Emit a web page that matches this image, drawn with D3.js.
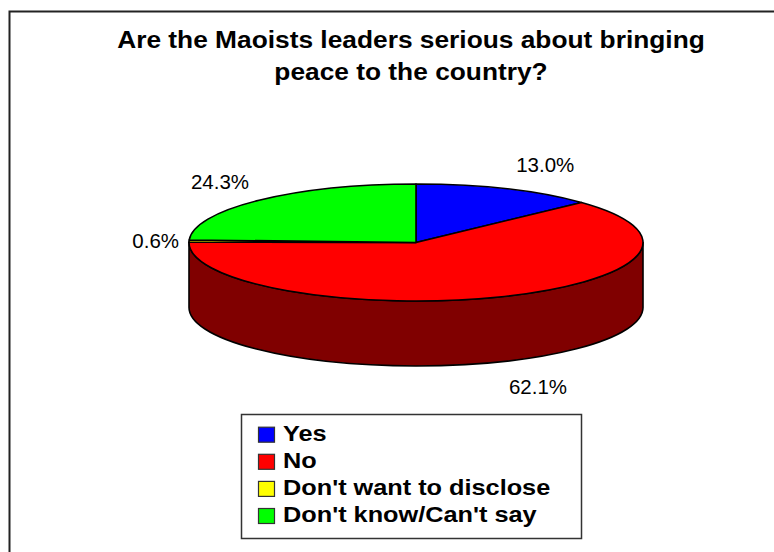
<!DOCTYPE html>
<html>
<head>
<meta charset="utf-8">
<script src="https://cdn.jsdelivr.net/npm/d3@7"></script>
<style>
  html, body { margin: 0; padding: 0; background: #ffffff; }
  svg { display: block; font-family: "Liberation Sans", Arial, sans-serif; }
</style>
</head>
<body>
<svg id="chart" width="774" height="552"></svg>
<script>
// Survey answers and their shares (percent)
const categories = ["Yes", "No", "Don't want to disclose", "Don't know/Can't say"];
const shares = [13.0, 62.1, 0.6, 24.3];
const topColors = ["#0000ff", "#ff0000", "#ffff00", "#00ff00"];
const sideColors = ["#000080", "#800000", "#808000", "#008000"];
const titleLines = ["Are the Maoists leaders serious about bringing", "peace to the country?"];

const svg = d3.select("#chart");

// chart frame (runs off the right and bottom edges)
svg.append("rect")
  .attr("x", 9.5).attr("y", 11.5)
  .attr("width", 820).attr("height", 620)
  .attr("fill", "#ffffff")
  .attr("stroke", "#222").attr("stroke-width", 2);

// title
const titleX = 411;
titleLines.forEach((t, i) => {
  svg.append("g")
    .attr("transform", `translate(${titleX},${48 + i * 32}) scale(1.12,1)`)
    .append("text")
    .attr("text-anchor", "middle")
    .attr("font-weight", "bold")
    .attr("font-size", 23.5)
    .attr("fill", "#000")
    .text(t);
});

// 3D pie geometry
const cx = 416, cy = 242.5, rx = 227, ry = 58.5, depth = 65;
const color = d3.scaleOrdinal().domain(categories).range(topColors);
const sideColor = d3.scaleOrdinal().domain(categories).range(sideColors);

const pie = d3.pie().sort(null).value(d => d.value);
const arcs = pie(categories.map((c, i) => ({ cat: c, value: shares[i] })));

const pt = (a, dy = 0) => [cx + rx * Math.sin(a), cy - ry * Math.cos(a) + dy];
const fmt = p => `${p[0].toFixed(2)},${p[1].toFixed(2)}`;

const pieG = svg.append("g");

// side wall: only the front half (from 3 o'clock round to 9 o'clock) is visible
arcs.forEach(d => {
  const s = Math.max(d.startAngle, Math.PI / 2);
  const e = Math.min(d.endAngle, 3 * Math.PI / 2);
  if (s >= e) return;
  const large = (e - s) > Math.PI ? 1 : 0;
  const path = `M${fmt(pt(s))} A${rx},${ry} 0 ${large} 1 ${fmt(pt(e))}` +
               ` L${fmt(pt(e, depth))} A${rx},${ry} 0 ${large} 0 ${fmt(pt(s, depth))} Z`;
  pieG.append("path")
    .attr("d", path)
    .attr("fill", sideColor(d.data.cat))
    .attr("stroke", "#000").attr("stroke-width", 1.6)
    .attr("stroke-linejoin", "round");
});

// top faces
arcs.forEach(d => {
  const large = (d.endAngle - d.startAngle) > Math.PI ? 1 : 0;
  const path = `M${cx},${cy} L${fmt(pt(d.startAngle))} A${rx},${ry} 0 ${large} 1 ${fmt(pt(d.endAngle))} Z`;
  pieG.append("path")
    .attr("d", path)
    .attr("fill", color(d.data.cat))
    .attr("stroke", "#000").attr("stroke-width", 1.6)
    .attr("stroke-linejoin", "round");
});

// value labels placed just outside the rim at each slice's mid-angle
const fmtPct = d3.format(".1f");
arcs.forEach(d => {
  const m = (d.startAngle + d.endAngle) / 2;
  const sn = Math.sin(m), cs = Math.cos(m);
  const e = pt(m, cs < 0 ? depth : 0);
  const x = e[0] + (sn >= 0 ? 10 : -10);
  const y = e[1] - cs * 26;
  svg.append("text")
    .attr("x", x).attr("y", y)
    .attr("dy", "0.36em")
    .attr("text-anchor", sn >= 0 ? "start" : "end")
    .attr("font-size", 20.5)
    .attr("fill", "#000")
    .text(fmtPct(d.data.value) + "%");
});

// legend
const legX = 241, legY = 414, legW = 340, legH = 124;
svg.append("rect")
  .attr("x", legX + 0.5).attr("y", legY + 0.5)
  .attr("width", legW).attr("height", legH)
  .attr("fill", "#fff")
  .attr("stroke", "#333").attr("stroke-width", 1.5);

const rowY = d3.scalePoint().domain(categories).range([440.7, 522]);
categories.forEach(c => {
  const by = rowY(c);
  svg.append("rect")
    .attr("x", 258.5).attr("y", by - 13.5)
    .attr("width", 16).attr("height", 15)
    .attr("fill", color(c))
    .attr("stroke", "#333").attr("stroke-width", 1.2);
  svg.append("g")
    .attr("transform", `translate(283,${by}) scale(1.15,1)`)
    .append("text")
    .attr("font-weight", "bold")
    .attr("font-size", 22)
    .attr("fill", "#000")
    .text(c);
});
</script>
</body>
</html>
